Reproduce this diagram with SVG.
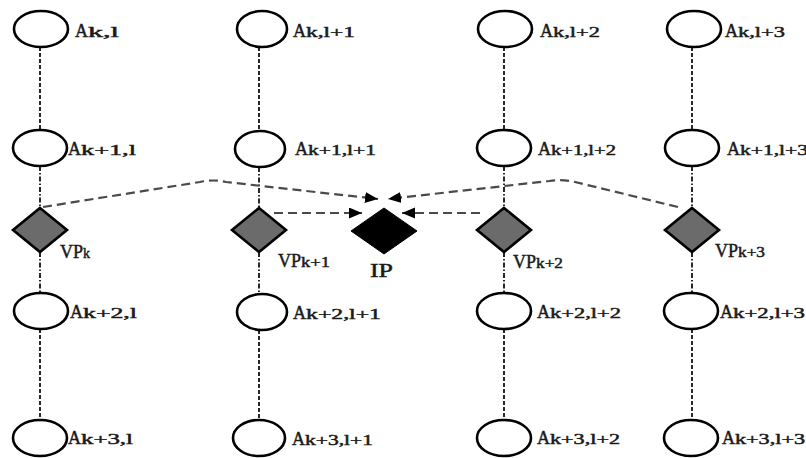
<svg xmlns="http://www.w3.org/2000/svg" width="806" height="458" viewBox="0 0 806 458">
  <style>
    .node { fill: #fff; stroke: #000; stroke-width: 2.6; }
    .vp { fill: #6b6b6b; stroke: #000; stroke-width: 2.6; }
    .ip { fill: #000; stroke: #000; stroke-width: 1; }
    .link { fill: none; stroke: #111; stroke-width: 1.8; stroke-dasharray: 4 2; }
    .link2 { fill: none; stroke: #111; stroke-width: 1.8; stroke-dasharray: 5 2 1.5 2; }
    .flow { fill: none; stroke: #4a4a4a; stroke-width: 2.2; stroke-dasharray: 9 5; }
    text { font-family: "Liberation Serif", "Times New Roman", serif; fill: #1a1a1a; stroke: #1a1a1a; stroke-width: 0.45; }
    .big { font-size: 18px; }
    .sub { font-size: 14px; }
  </style>
  <defs>
    <marker id="head" markerUnits="userSpaceOnUse" markerWidth="15" markerHeight="12" refX="13" refY="5.5" orient="auto">
      <path d="M0,0 L13,5.5 L0,11 Z" fill="#000"/>
    </marker>
  </defs>

  <!-- vertical chains -->
  <g id="connectors">
    <line class="link" x1="40" y1="47" x2="40" y2="130"/>
    <line class="link2" x1="40" y1="166" x2="40" y2="208"/>
    <line class="link2" x1="40" y1="252" x2="40" y2="293"/>
    <line class="link" x1="40" y1="329" x2="40" y2="420"/>

    <line class="link" x1="259" y1="47" x2="259" y2="131"/>
    <line class="link2" x1="259" y1="167" x2="259" y2="208"/>
    <line class="link2" x1="259" y1="252" x2="259" y2="294"/>
    <line class="link" x1="259" y1="330" x2="259" y2="420"/>

    <line class="link" x1="504" y1="47" x2="504" y2="130"/>
    <line class="link2" x1="504" y1="166" x2="504" y2="208"/>
    <line class="link2" x1="504" y1="252" x2="504" y2="293"/>
    <line class="link" x1="504" y1="329" x2="504" y2="420"/>

    <line class="link" x1="692" y1="47" x2="692" y2="130"/>
    <line class="link2" x1="692" y1="166" x2="692" y2="208"/>
    <line class="link2" x1="692" y1="252" x2="692" y2="293"/>
    <line class="link" x1="692" y1="329" x2="692" y2="420"/>

    <!-- flows toward IP -->
    <path class="flow" d="M43,207 L200,182 Q213,179 226,182 L378,199" marker-end="url(#head)"/>
    <path class="flow" d="M678,207 L575,182 Q562,179 549,181 L388,199" marker-end="url(#head)"/>
    <path class="flow" d="M274,213 L362,213" marker-end="url(#head)"/>
    <path class="flow" d="M480,213 L402,213" marker-end="url(#head)"/>
  </g>

  <!-- row 1 -->
  <g id="a-k-l"><ellipse class="node" cx="41" cy="29" rx="27" ry="18"/>
    <text class="big" x="75" y="37">A<tspan class="sub" textLength="31" lengthAdjust="spacingAndGlyphs">k,l</tspan></text></g>
  <g id="a-k-l1"><ellipse class="node" cx="262" cy="29" rx="25" ry="18"/>
    <text class="big" x="293" y="37">A<tspan class="sub" textLength="49" lengthAdjust="spacingAndGlyphs">k,l+1</tspan></text></g>
  <g id="a-k-l2"><ellipse class="node" cx="505" cy="29" rx="27" ry="18"/>
    <text class="big" x="540" y="37">A<tspan class="sub" textLength="47" lengthAdjust="spacingAndGlyphs">k,l+2</tspan></text></g>
  <g id="a-k-l3"><ellipse class="node" cx="694" cy="29" rx="27" ry="18"/>
    <text class="big" x="725" y="37">A<tspan class="sub" textLength="47" lengthAdjust="spacingAndGlyphs">k,l+3</tspan></text></g>

  <!-- row 2 -->
  <g id="a-k1-l"><ellipse class="node" cx="40" cy="148" rx="27" ry="18"/>
    <text class="big" x="68" y="155">A<tspan class="sub" textLength="55" lengthAdjust="spacingAndGlyphs">k+1,l</tspan></text></g>
  <g id="a-k1-l1"><ellipse class="node" cx="260" cy="149" rx="25" ry="18"/>
    <text class="big" x="295" y="155">A<tspan class="sub" textLength="68" lengthAdjust="spacingAndGlyphs">k+1,l+1</tspan></text></g>
  <g id="a-k1-l2"><ellipse class="node" cx="504" cy="148" rx="27" ry="18"/>
    <text class="big" x="538" y="155">A<tspan class="sub" textLength="65" lengthAdjust="spacingAndGlyphs">k+1,l+2</tspan></text></g>
  <g id="a-k1-l3"><ellipse class="node" cx="692" cy="148" rx="27" ry="18"/>
    <text class="big" x="727" y="155">A<tspan class="sub" textLength="68" lengthAdjust="spacingAndGlyphs">k+1,l+3</tspan></text></g>

  <!-- virtual points -->
  <g id="vp-k"><path class="vp" d="M40,208 L67,230 L40,252 L13,230 Z"/>
    <text class="big" x="60" y="258">VP<tspan class="sub">k</tspan></text></g>
  <g id="vp-k1"><path class="vp" d="M259,208 L286,230 L259,252 L232,230 Z"/>
    <text class="big" x="278" y="267">VP<tspan class="sub" textLength="29" lengthAdjust="spacingAndGlyphs">k+1</tspan></text></g>
  <g id="vp-k2"><path class="vp" d="M504,208 L531,230 L504,252 L477,230 Z"/>
    <text class="big" x="513" y="268">VP<tspan class="sub" textLength="27" lengthAdjust="spacingAndGlyphs">k+2</tspan></text></g>
  <g id="vp-k3"><path class="vp" d="M692,208 L719,230 L692,252 L665,230 Z"/>
    <text class="big" x="715" y="257">VP<tspan class="sub" textLength="27" lengthAdjust="spacingAndGlyphs">k+3</tspan></text></g>

  <!-- intersection point -->
  <g id="ip"><path class="ip" d="M384,208 L417,231 L384,254 L351,231 Z"/>
    <text class="big" x="370" y="277" textLength="23" lengthAdjust="spacingAndGlyphs">IP</text></g>

  <!-- row 3 -->
  <g id="a-k2-l"><ellipse class="node" cx="41" cy="311" rx="27" ry="18"/>
    <text class="big" x="70" y="318">A<tspan class="sub" textLength="54" lengthAdjust="spacingAndGlyphs">k+2,l</tspan></text></g>
  <g id="a-k2-l1"><ellipse class="node" cx="262" cy="312" rx="25" ry="18"/>
    <text class="big" x="293" y="319">A<tspan class="sub" textLength="75" lengthAdjust="spacingAndGlyphs">k+2,l+1</tspan></text></g>
  <g id="a-k2-l2"><ellipse class="node" cx="504" cy="311" rx="27" ry="18"/>
    <text class="big" x="537" y="318">A<tspan class="sub" textLength="71" lengthAdjust="spacingAndGlyphs">k+2,l+2</tspan></text></g>
  <g id="a-k2-l3"><ellipse class="node" cx="691" cy="311" rx="27" ry="18"/>
    <text class="big" x="720" y="318">A<tspan class="sub" textLength="72" lengthAdjust="spacingAndGlyphs">k+2,l+3</tspan></text></g>

  <!-- row 4 -->
  <g id="a-k3-l"><ellipse class="node" cx="40" cy="438" rx="27" ry="18"/>
    <text class="big" x="68" y="444">A<tspan class="sub" textLength="52" lengthAdjust="spacingAndGlyphs">k+3,l</tspan></text></g>
  <g id="a-k3-l1"><ellipse class="node" cx="259" cy="438" rx="26" ry="18"/>
    <text class="big" x="292" y="445">A<tspan class="sub" textLength="68" lengthAdjust="spacingAndGlyphs">k+3,l+1</tspan></text></g>
  <g id="a-k3-l2"><ellipse class="node" cx="504" cy="438" rx="27" ry="18"/>
    <text class="big" x="537" y="444">A<tspan class="sub" textLength="70" lengthAdjust="spacingAndGlyphs">k+3,l+2</tspan></text></g>
  <g id="a-k3-l3"><ellipse class="node" cx="691" cy="438" rx="27" ry="18"/>
    <text class="big" x="722" y="444">A<tspan class="sub" textLength="70" lengthAdjust="spacingAndGlyphs">k+3,l+3</tspan></text></g>
</svg>
